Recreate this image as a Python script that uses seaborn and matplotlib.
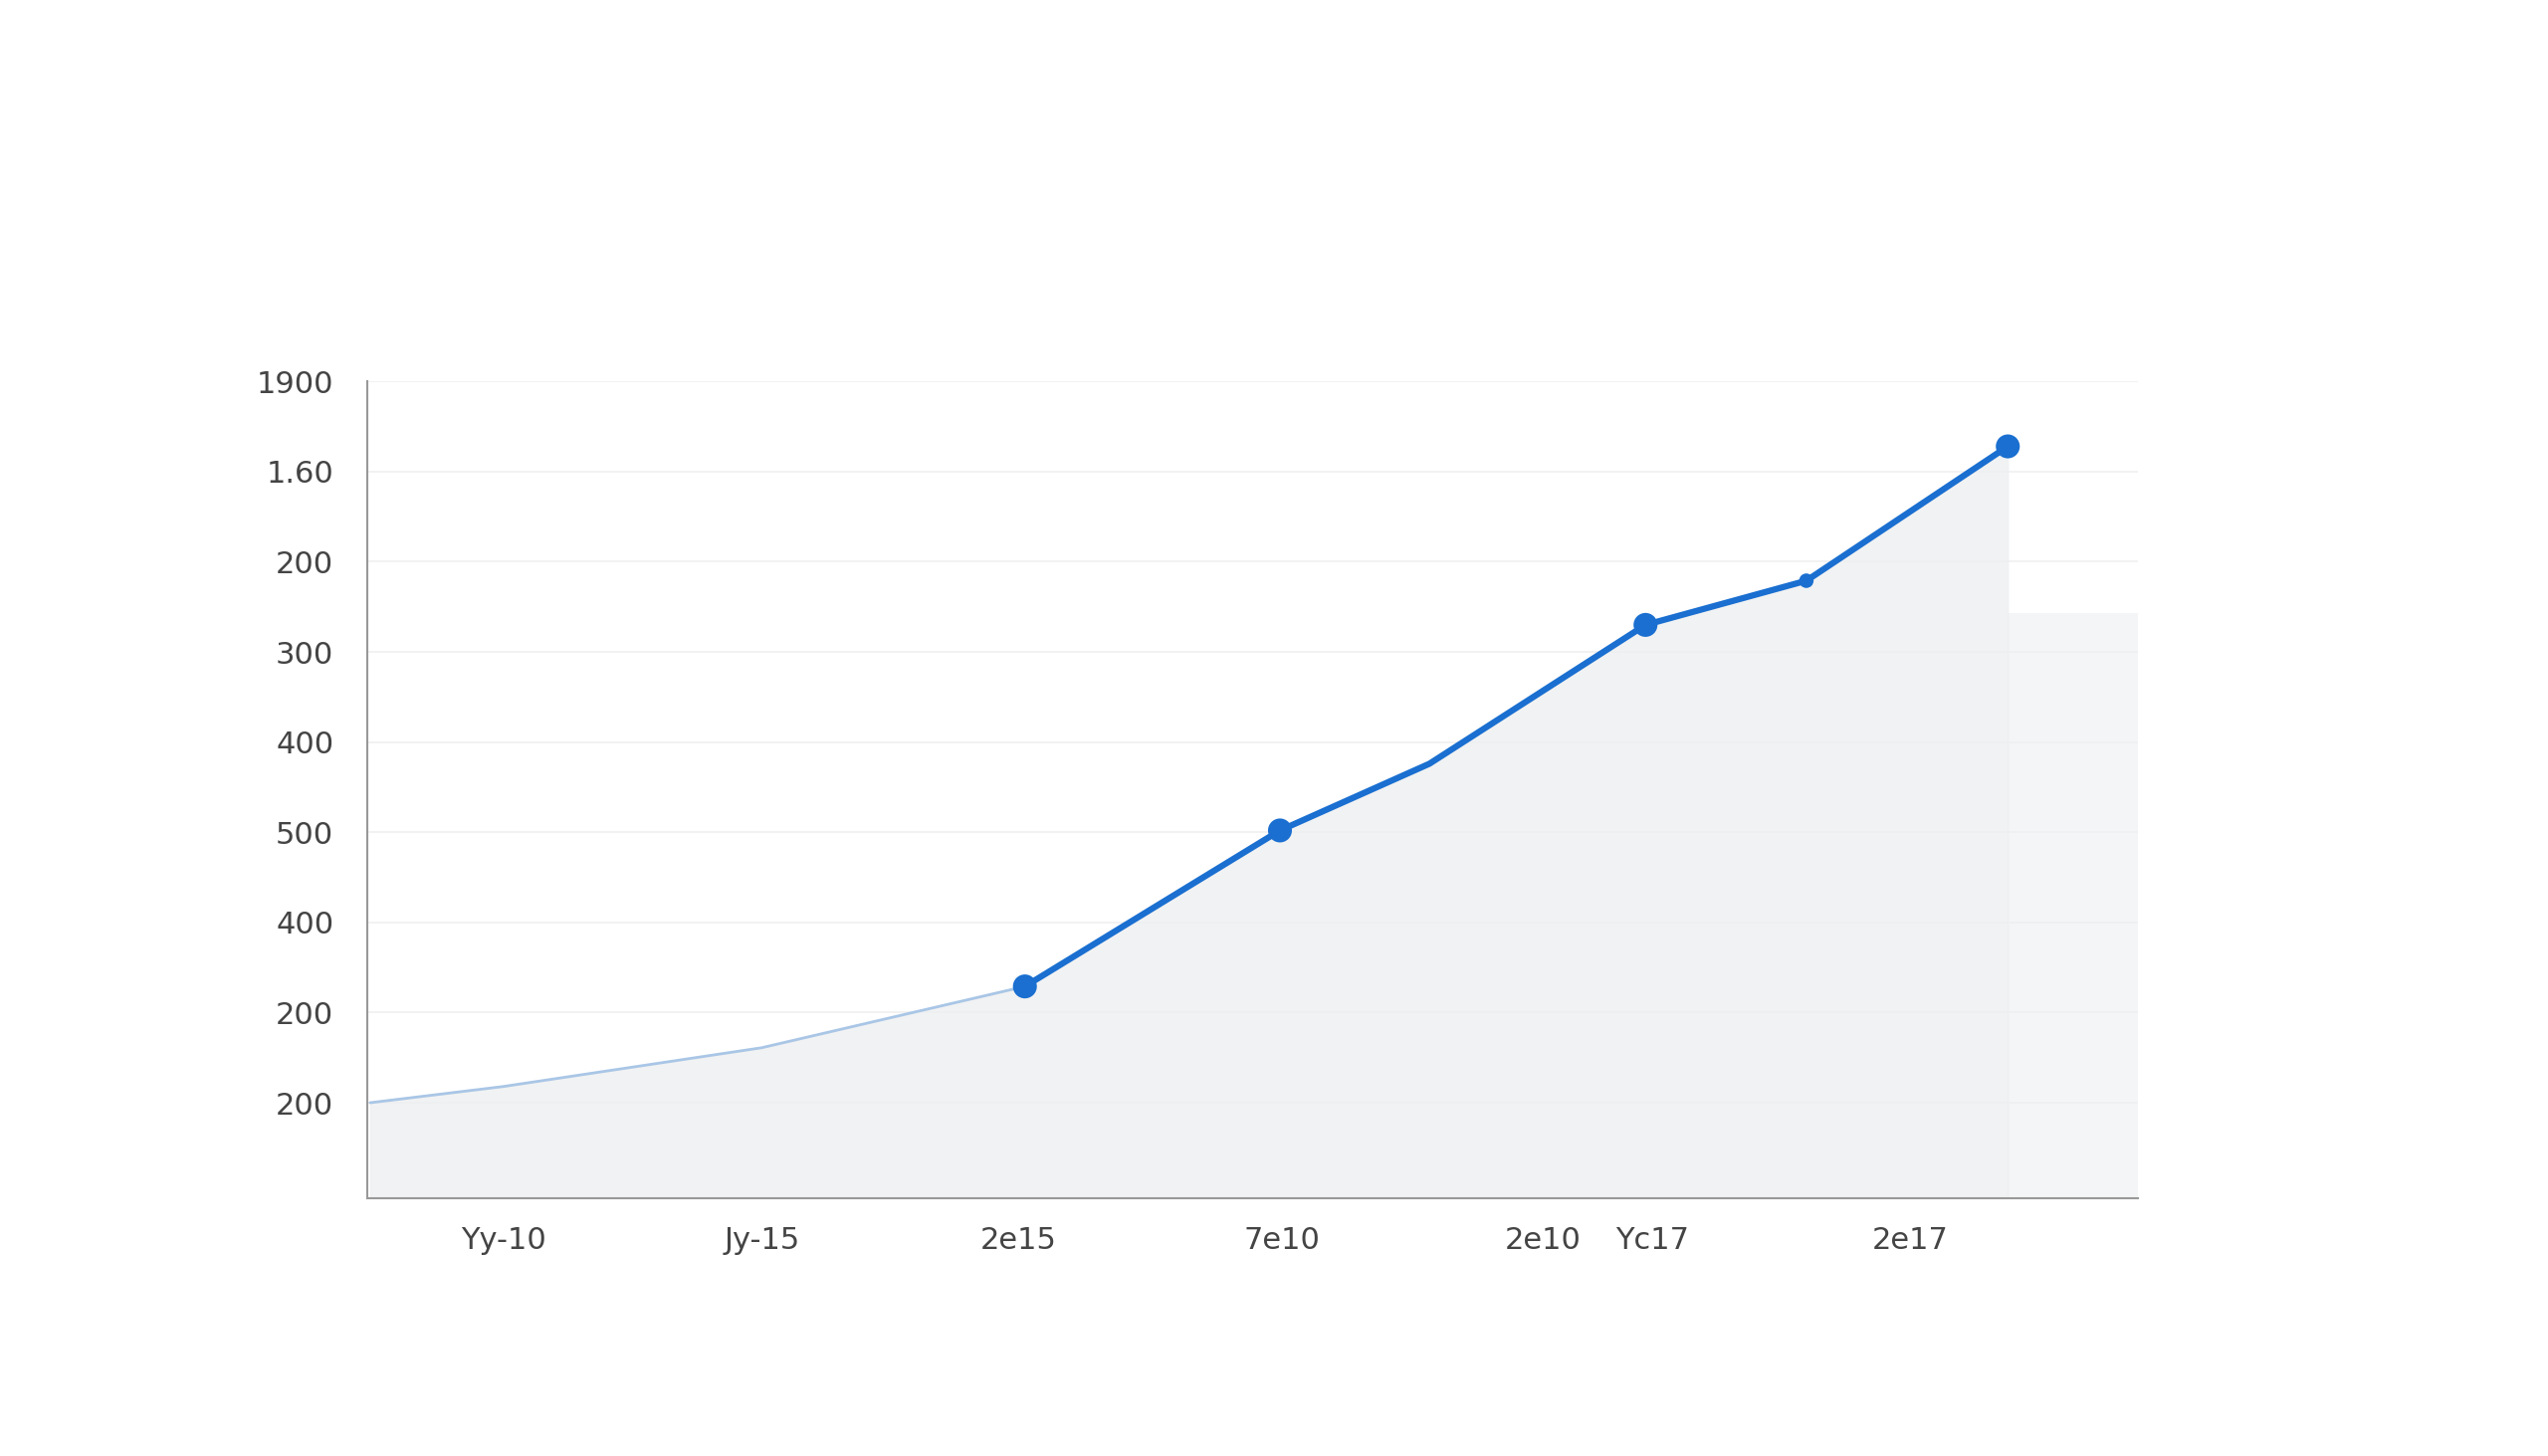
import matplotlib
matplotlib.use("Agg")
import matplotlib.pyplot as plt
import seaborn as sns
import pandas as pd

sns.set_theme(style="white")
plt.rcParams['font.family'] = ['DejaVu Sans']

x_vals = [2, 84, 243, 405, 562, 654, 787, 886, 1010]
y_vals = [0.0, 0.18, 0.61, 1.29, 3.02, 3.76, 5.30, 5.79, 7.28]
x_tick_pos = [84, 243, 401, 563, 724, 791, 950]
x_tick_labels = ["Yy-10", "Jy-15", "2e15", "7e10", "2e10", "Yc17", "2e17"]
y_tick_pos = [0, 1, 2, 3, 4, 5, 6, 7, 8]
y_tick_labels = ["200", "200", "400", "500", "400", "300", "200", "1.60", "1900"]
big_marker_idx = [3, 4, 6, 8]
small_marker_idx = [7]

df = pd.DataFrame({"x": x_vals, "y": y_vals})

fig = plt.figure(figsize=(25.6, 14.63), dpi=100)
ax = fig.add_axes([0.144, 0.177, 0.695, 0.561])

ax.fill_between(df["x"], df["y"], -1.06, color="#eeeff1", alpha=0.8, zorder=1)
ax.axvspan(df["x"].iloc[-1], 1090, ymin=0, ymax=(5.4 + 1.06) / 9.02, color="#eeeff1", alpha=0.6, lw=0, zorder=1)
early = df.iloc[:4]
late = df.iloc[3:]
sns.lineplot(data=early, x="x", y="y", ax=ax, color="#a9c6e6", linewidth=2, zorder=2)
sns.lineplot(data=late, x="x", y="y", ax=ax, color="#1a6fd0", linewidth=4.5, zorder=3)
bm = df.iloc[big_marker_idx]
sm = df.iloc[small_marker_idx]
sns.scatterplot(data=bm, x="x", y="y", ax=ax, color="#1a6fd0", s=300, edgecolor="none", zorder=4)
sns.scatterplot(data=sm, x="x", y="y", ax=ax, color="#1a6fd0", s=110, edgecolor="none", zorder=4)

ax.set_xlim(0, 1090)
ax.set_ylim(-1.06, 7.96)
ax.set_xticks(x_tick_pos)
ax.set_xticklabels(x_tick_labels, fontsize=22, color="#444444")
ax.set_yticks(y_tick_pos)
ax.set_yticklabels(y_tick_labels, fontsize=22, color="#444444")
ax.tick_params(axis="x", length=6, color="#bbbbbb", pad=14)
ax.tick_params(axis="y", length=0, pad=24)
for yv in y_tick_pos:
    ax.axhline(yv, color="#f0f0f0", linewidth=1.2, zorder=0)
ax.set_xlabel("")
ax.set_ylabel("")
for s in ["top", "right"]:
    ax.spines[s].set_visible(False)
for s in ["left", "bottom"]:
    ax.spines[s].set_color("#999999")
    ax.spines[s].set_linewidth(1.5)

fig.savefig("out.png", dpi=100, facecolor="white")
